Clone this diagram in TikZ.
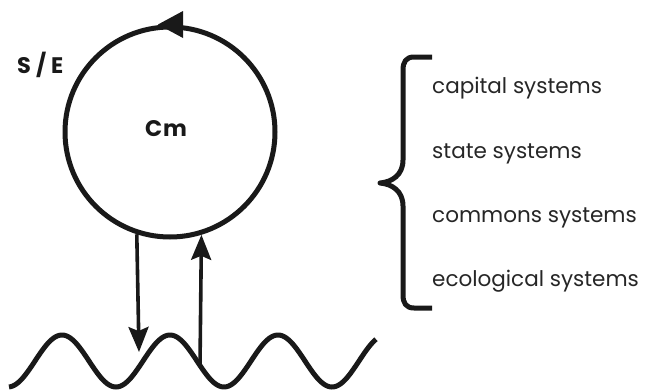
\documentclass[tikz,border=0pt]{standalone}
\usepackage{fontspec}
\setmainfont{Poppins}
\usetikzlibrary{arrows.meta}
\tikzset{
  thick line/.style={line width=5pt, draw=black!90},
  flow/.style={line width=3.6pt, draw=black!90, -{Stealth[length=25pt,width=20pt,inset=4pt]}},
  item/.style={anchor=base west, inner sep=0pt, font=\fontsize{21.5}{25}\selectfont, text=black!85},
  boldlabel/.style={anchor=base, inner sep=0pt, font=\fontsize{22.5}{26}\selectfont\bfseries, text=black!90},
}
\begin{document}
\begin{tikzpicture}[x=1pt,y=-1pt]
\useasboundingbox (0,0) rectangle (653,391);
% circle
\node[circle, thick line, minimum size=210pt, inner sep=0pt] (cm) at (170,132) {};
\node[boldlabel] (cmlabel) at (166,136) {C\kern1pt m};
\node[boldlabel, anchor=base west] (se) at (17,73) {S\kern5pt/\kern5pt E};
% arrowhead on circle
\fill[black!90] (cm.north) ++(-12,0) -- ++(25,-13.5) -- ++(0,27) -- cycle;
% wave
\draw[thick line, line cap=butt] plot[domain=9:376, samples=200, smooth] (\x, {361-26*cos((\x-62)/108*360)});
\coordinate (wdown) at (139,352);
\coordinate (wup) at (200,{361-26*cos((200-62)/108*360)});
\draw[flow] (cm.252.8) -- (wdown);
\draw[flow] (wup) -- (cm.287.5);
% brace
\draw[line width=5pt, draw=black!90, line join=round]
  (432,57) -- (414,57) .. controls (406,57) and (403,62) .. (403,70) -- (403,160)
  .. controls (403,175) and (392,182) .. (380,183)
  .. controls (392,184) and (403,191) .. (403,206) -- (403,295)
  .. controls (403,303) and (406,308) .. (414,308) -- (432,308);
% items
\node[item] (i1) at (432,93) {capital systems};
\node[item] (i2) at (432,158) {state systems};
\node[item] (i3) at (432,222) {commons systems};
\node[item] (i4) at (432,286) {ecological systems};
\end{tikzpicture}
\end{document}
